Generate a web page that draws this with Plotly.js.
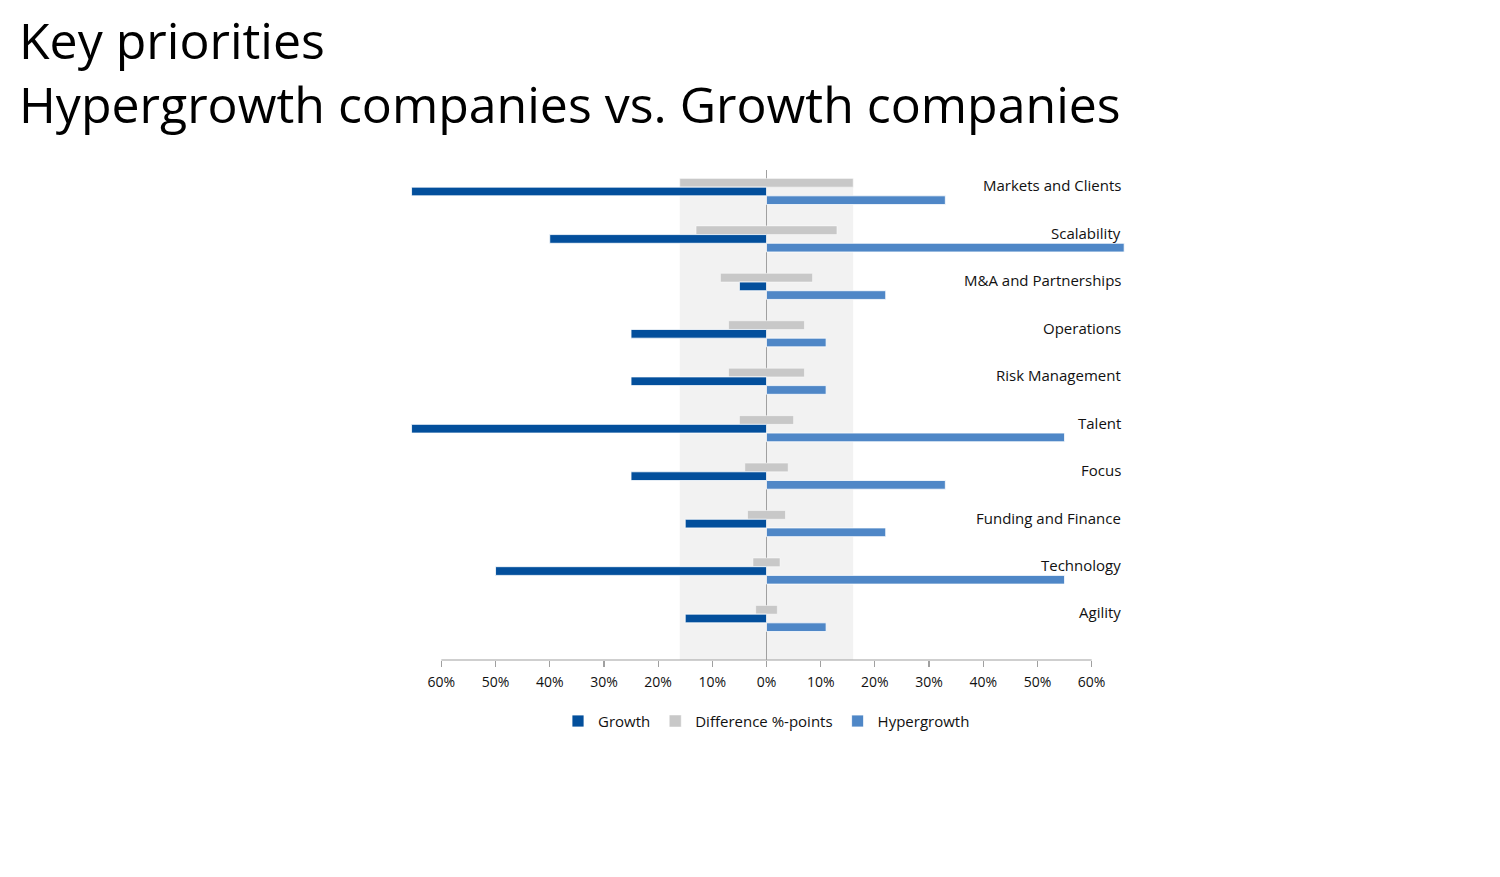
<!DOCTYPE html>
<html>
<head>
<meta charset="utf-8">
<script src="https://cdn.plot.ly/plotly-3.0.1.min.js"></script>
<style>html,body{margin:0;padding:0;background:#fff;}#chart{width:1500px;height:877px;}</style>
</head>
<body>
<div id="chart"></div>
<script>
const titleLines = ["Key priorities", "Hypergrowth companies vs. Growth companies"];
const categories = ["Markets and Clients","Scalability","M&A and Partnerships","Operations","Risk Management","Talent","Focus","Funding and Finance","Technology","Agility"];
const growth = [65.5, 40, 5, 25, 25, 65.5, 25, 15, 50, 15];
const hypergrowth = [33, 66, 22, 11, 11, 55, 33, 22, 55, 11];
const difference = [32, 26, 17, 14, 14, 10, 8, 7, 5, 4];
const tickValues = [-60,-50,-40,-30,-20,-10,0,10,20,30,40,50,60];
const tickLabels = ["60%","50%","40%","30%","20%","10%","0%","10%","20%","30%","40%","50%","60%"];

const FONT = '"Open Sans", "Noto Sans", sans-serif';
const yTop = -0.453, yBottom = 9.875;
const halfMax = Math.max(...difference) / 2;

const traces = [
  {
    type: 'bar', orientation: 'h', name: 'Difference %-points', legendrank: 2,
    y: categories, x: difference, base: difference.map(d => -d / 2),
    marker: {color: '#c8c8c8', line: {color: '#ffffff', width: 0.5}},
    hoverinfo: 'skip'
  },
  {
    type: 'bar', orientation: 'h', name: 'Growth', legendrank: 1,
    y: categories, x: growth.map(v => -v),
    marker: {color: '#034f9c', line: {color: '#ffffff', width: 0.8}},
    hoverinfo: 'skip'
  },
  {
    type: 'bar', orientation: 'h', name: 'Hypergrowth', legendrank: 3,
    y: categories, x: hypergrowth,
    marker: {color: '#4f87c7', line: {color: '#ffffff', width: 0.8}},
    hoverinfo: 'skip'
  }
];

const annotations = categories.map(c => ({
  text: c, x: 0.984, xref: 'paper', xanchor: 'right',
  y: c, yref: 'y', yanchor: 'middle', yshift: 6,
  showarrow: false, font: {family: FONT, size: 15, color: '#111111'}
}));
// Title lines (positioned in paper coordinates above the plot)
annotations.push({
  text: titleLines[0], xref: 'paper', yref: 'paper', x: -0.5165, xanchor: 'left',
  y: 1.2653, yanchor: 'middle', showarrow: false, font: {family: FONT, size: 50, color: '#000000'}
});
annotations.push({
  text: titleLines[1], xref: 'paper', yref: 'paper', x: -0.5165, xanchor: 'left',
  y: 1.1347, yanchor: 'middle', showarrow: false, font: {family: FONT, size: 50, color: '#000000'}
});

const layout = {
  width: 1500, height: 877,
  paper_bgcolor: '#ffffff', plot_bgcolor: 'rgba(0,0,0,0)',
  margin: {l: 398, r: 365, t: 170, b: 217},
  barmode: 'group', bargap: 0.45, bargroupgap: 0,
  xaxis: {
    range: [-68, 68], tickvals: tickValues, ticktext: tickLabels,
    showgrid: false, showline: false, zeroline: true, zerolinecolor: '#a0a0a0', zerolinewidth: 1.5,
    ticks: 'outside', ticklen: 6, tickcolor: '#a0a0a0', tickwidth: 1.2, ticklabelstandoff: 3,
    tickfont: {family: FONT, size: 14, color: '#111111'}, fixedrange: true
  },
  yaxis: {
    type: 'category', categoryorder: 'array', categoryarray: categories,
    range: [yBottom, yTop], showticklabels: false, showgrid: false, showline: false,
    zeroline: false, ticks: '', fixedrange: true
  },
  shapes: [
    {type: 'rect', layer: 'below', xref: 'x', yref: 'y', x0: -halfMax, x1: halfMax, y0: -0.275, y1: yBottom,
     fillcolor: '#f2f2f2', line: {width: 0}},
    {type: 'line', layer: 'above', xref: 'x', yref: 'paper', x0: tickValues[0], x1: tickValues[tickValues.length - 1], y0: 0, y1: 0,
     line: {color: '#a0a0a0', width: 1.2}}
  ],
  annotations: annotations,
  showlegend: true,
  legend: {
    orientation: 'h', x: 0.5, xanchor: 'center', xref: 'paper', y: -0.125, yanchor: 'middle',
    font: {family: FONT, size: 15, color: '#111111'}, traceorder: 'normal', itemwidth: 30
  }
};

Plotly.newPlot('chart', traces, layout, {displayModeBar: false, staticPlot: true});
</script>
</body>
</html>
